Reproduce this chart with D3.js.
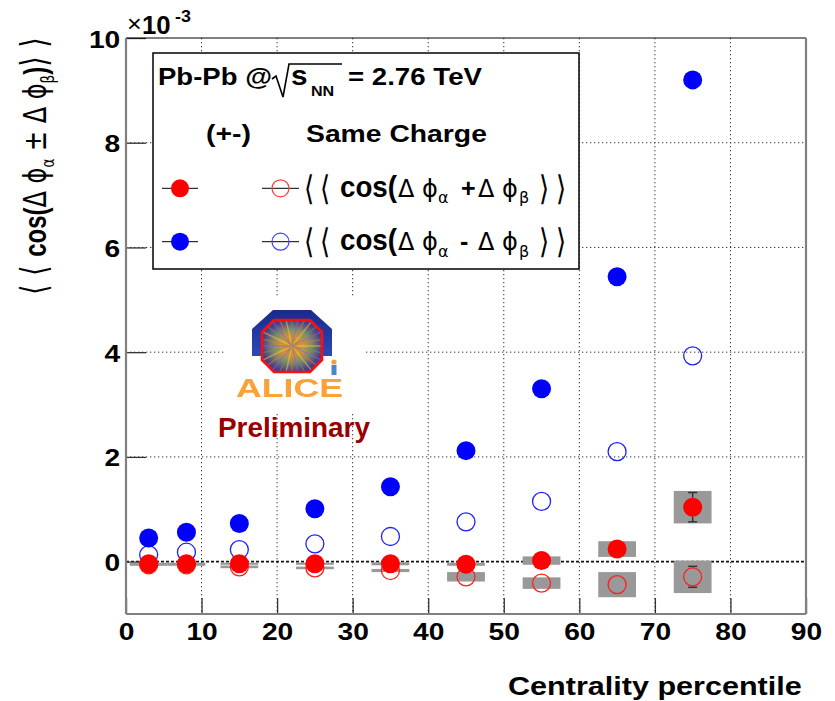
<!DOCTYPE html>
<html>
<head>
<meta charset="utf-8">
<script src="https://cdn.jsdelivr.net/npm/d3@7"></script>
<style>
  body { margin: 0; background: #fff; }
  svg { display: block; }
</style>
</head>
<body>
<svg id="chart" width="835" height="701"></svg>
<script>
// ---- data: two-particle correlators vs centrality (values x 1e-3) ----
const centrality   = [3, 8, 15, 25, 35, 45, 55, 65, 75];
// opposite charge (+-), <<cos(dphi_a - dphi_b)>>
const oppMinus     = [0.45, 0.56, 0.73, 1.01, 1.43, 2.12, 3.30, 5.44, 9.20];
// same charge, <<cos(dphi_a - dphi_b)>>
const sameMinus    = [0.13, 0.18, 0.23, 0.34, 0.48, 0.76, 1.15, 2.10, 3.93];
// opposite charge (+-), <<cos(dphi_a + dphi_b)>>
const oppPlus      = [-0.04, -0.04, -0.04, -0.04, -0.04, -0.05, 0.02, 0.24, 1.04];
// same charge, <<cos(dphi_a + dphi_b)>>
const samePlus     = [-0.06, -0.06, -0.10, -0.12, -0.17, -0.29, -0.41, -0.44, -0.29];
// systematic uncertainties (half height of the grey boxes)
const oppPlusSys   = [0.02, 0.02, 0.02, 0.02, 0.03, 0.03, 0.08, 0.15, 0.31];
const samePlusSys  = [0.02, 0.02, 0.025, 0.025, 0.03, 0.09, 0.11, 0.24, 0.31];
// statistical uncertainties
const oppPlusStat  = [0.01, 0.01, 0.01, 0.02, 0.03, 0.04, 0.06, 0.10, 0.28];
const samePlusStat = [0.01, 0.01, 0.01, 0.02, 0.03, 0.04, 0.06, 0.10, 0.20];
const binHalfWidth = 2.5;
const xTicks = [0, 10, 20, 30, 40, 50, 60, 70, 80, 90];
const yTicks = [0, 2, 4, 6, 8, 10];

// ---- layout ----
const W = 835, H = 701;
const M = { left: 126, right: 806, top: 38, bottom: 614 };
const x = d3.scaleLinear().domain([0, 90]).range([M.left, M.right]);
const y = d3.scaleLinear().domain([-1, 10]).range([M.bottom, M.top]);
const FONT = "'Liberation Sans', Arial, Helvetica, sans-serif";
const SYM = "'DejaVu Sans', 'Liberation Sans', sans-serif";
const SX = 1.15;
const RED = "#ff0000", BLUE = "#0000ff";
const R = 9.5;
const PHI = "\u03d5";

const svg = d3.select("#chart");
svg.append("rect").attr("width", W).attr("height", H).attr("fill", "#fff");

// text helper: optional stretch to a given width
function label(g, str, x0, y0, opt) {
  const t = g.append("text").attr("x", 0).attr("y", 0)
    .attr("font-family", opt.family || FONT)
    .attr("font-weight", opt.weight || "bold")
    .attr("font-size", opt.size)
    .attr("fill", opt.fill || "#000")
    .attr("text-anchor", opt.anchor || "start")
    .text(str);
  let sx = opt.sx || 1;
  if (opt.width) sx = opt.width / t.node().getComputedTextLength();
  t.attr("transform", `translate(${x0},${y0}) scale(${sx},${opt.sy || 1})`);
  return t;
}

// ---- grid ----
const grid = svg.append("g");
grid.selectAll("line.gx").data(xTicks.filter(d => d > 0 && d < 90)).join("line")
  .attr("x1", d => x(d)).attr("x2", d => x(d))
  .attr("y1", M.top).attr("y2", M.bottom)
  .attr("stroke", "#333").attr("stroke-width", 1).attr("stroke-dasharray", "1.3,2.7");
grid.selectAll("line.gy").data(yTicks.filter(d => d > 0 && d < 10)).join("line")
  .attr("x1", M.left).attr("x2", M.right)
  .attr("y1", d => y(d)).attr("y2", d => y(d))
  .attr("stroke", "#333").attr("stroke-width", 1).attr("stroke-dasharray", "1.3,2.7");
grid.append("line")
  .attr("x1", M.left).attr("x2", M.right).attr("y1", y(0)).attr("y2", y(0))
  .attr("stroke", "#111").attr("stroke-width", 1.6).attr("stroke-dasharray", "3,2");

// ---- axes ----
const gx = svg.append("g").attr("transform", `translate(0,${M.bottom})`)
  .call(d3.axisBottom(x).tickValues(xTicks).tickSizeInner(-16).tickSizeOuter(0).tickFormat(d3.format("d")));
gx.select(".domain").remove();
gx.selectAll(".tick line").attr("stroke", "#333").attr("stroke-width", 1.3);
gx.selectAll(".tick text")
  .attr("font-family", FONT).attr("font-weight", "bold").attr("font-size", 24.5)
  .attr("fill", "#000").attr("y", 26).attr("dy", 0)
  .attr("transform", `scale(${SX},1)`);

const gy = svg.append("g").attr("transform", `translate(${M.left},0)`)
  .call(d3.axisLeft(y).tickValues(yTicks).tickSizeInner(-20).tickSizeOuter(0).tickFormat(d3.format("d")));
gy.select(".domain").remove();
gy.selectAll(".tick line").attr("stroke", "#333").attr("stroke-width", 1.3);
gy.selectAll(".tick text")
  .attr("font-family", FONT).attr("font-weight", "bold").attr("font-size", 24.5)
  .attr("fill", "#000").attr("x", -5).attr("dy", 9)
  .attr("transform", `scale(${SX},1)`);

// exponent
label(svg, "\u00d7", 127, 32, { size: 24, weight: "normal", sx: 1.05 });
label(svg, "10", 142, 34, { size: 25, sx: 1.03 });
label(svg, "-3", 175, 22, { size: 17, sx: 1.05 });

// axis titles
label(svg, "Centrality percentile", 508, 695, { size: 25, width: 294 });

const yt = svg.append("g").attr("transform", "translate(46,295) rotate(-90)");
const ytText = yt.append("text").attr("x", 0).attr("y", 0).attr("font-size", 32).attr("fill", "#000");
ytText.append("tspan").attr("font-family", SYM).attr("font-size", 36).text("\u27e8 \u27e8 ");
ytText.append("tspan").attr("font-family", FONT).attr("font-weight", "bold").text("cos(");
ytText.append("tspan").attr("font-family", SYM).text("\u0394 " + PHI);
ytText.append("tspan").attr("font-family", SYM).attr("font-size", 18).attr("dy", 8).text("\u03b1");
ytText.append("tspan").attr("font-family", SYM).attr("dy", -8).text(" \u00b1 \u0394 " + PHI);
ytText.append("tspan").attr("font-family", SYM).attr("font-size", 18).attr("dy", 8).text("\u03b2");
ytText.append("tspan").attr("font-family", FONT).attr("font-weight", "bold").attr("dy", -8).text(")");
ytText.append("tspan").attr("font-family", SYM).attr("font-size", 36).text("\u27e9 \u27e9");
{
  const len = ytText.node().getComputedTextLength();
  ytText.attr("transform", `scale(${258 / len},1)`);
}

// ---- frame ----
const frame = svg.append("g");
frame.append("line").attr("x1", M.left).attr("x2", M.right).attr("y1", M.top).attr("y2", M.top)
  .attr("stroke", "#000").attr("stroke-width", 1);
frame.append("line").attr("x1", M.left).attr("x2", M.left).attr("y1", M.top).attr("y2", M.bottom)
  .attr("stroke", "#808080").attr("stroke-width", 2.2);
frame.append("line").attr("x1", M.left).attr("x2", M.right).attr("y1", M.bottom).attr("y2", M.bottom)
  .attr("stroke", "#808080").attr("stroke-width", 2.2);
frame.append("line").attr("x1", M.right).attr("x2", M.right).attr("y1", M.top).attr("y2", M.bottom)
  .attr("stroke", "#808080").attr("stroke-width", 2.2);

// ---- ALICE logo ----
const defs = svg.append("defs");
const blueGrad = defs.append("linearGradient").attr("id", "ringBlue").attr("x1", 0).attr("y1", 0).attr("x2", 0).attr("y2", 1);
blueGrad.append("stop").attr("offset", "0%").attr("stop-color", "#1a2a8a");
blueGrad.append("stop").attr("offset", "100%").attr("stop-color", "#2c49b8");
const coreGrad = defs.append("radialGradient").attr("id", "core");
coreGrad.append("stop").attr("offset", "0%").attr("stop-color", "#ff9a10");
coreGrad.append("stop").attr("offset", "35%").attr("stop-color", "#d89a40");
coreGrad.append("stop").attr("offset", "65%").attr("stop-color", "#7f8a6a");
coreGrad.append("stop").attr("offset", "100%").attr("stop-color", "#4a3c8c");
defs.append("filter").attr("id", "soft").append("feGaussianBlur").attr("stdDeviation", 0.6);

const logo = svg.append("g");
logo.append("rect").attr("x", 225).attr("y", 298).attr("width", 139).attr("height", 116).attr("fill", "#fff");
const lg = logo.append("g").attr("filter", "url(#soft)");
lg.append("polygon")
  .attr("points", [[273, 310], [311, 310], [332, 329], [332, 356], [252, 356], [252, 329]].map(p => p.join(",")).join(" "))
  .attr("fill", "url(#ringBlue)");
const oct = (cx, cy, a, b, c) => [
  [cx - a + c, cy - b], [cx + a - c, cy - b], [cx + a, cy - b + c], [cx + a, cy + b - c],
  [cx + a - c, cy + b], [cx - a + c, cy + b], [cx - a, cy + b - c], [cx - a, cy - b + c]
].map(p => p.join(",")).join(" ");
defs.append("clipPath").attr("id", "octClip").append("polygon").attr("points", oct(292, 346, 30, 26, 12));
lg.append("polygon").attr("points", oct(292, 346, 30, 26, 12)).attr("fill", "url(#core)");
const rays = lg.append("g").attr("clip-path", "url(#octClip)");
const rayColors = ["#f0c040", "#5aa05a", "#8a60c8", "#e07a20"];
rays.selectAll("line").data(d3.range(28)).join("line")
  .attr("x1", 292).attr("y1", 346)
  .attr("x2", i => 292 + 40 * Math.cos(i * 2 * Math.PI / 28))
  .attr("y2", i => 346 + 40 * Math.sin(i * 2 * Math.PI / 28))
  .attr("stroke", i => rayColors[i % 4]).attr("stroke-width", 1.4).attr("opacity", 0.55);
lg.append("polygon").attr("points", oct(292, 346, 30, 26, 12))
  .attr("fill", "none").attr("stroke", "#ff1010").attr("stroke-width", 2.6);
lg.append("circle").attr("cx", 334).attr("cy", 362).attr("r", 2.6).attr("fill", "#f0a040");
lg.append("rect").attr("x", 331.5).attr("y", 365).attr("width", 5).attr("height", 10).attr("fill", "#4a86d0");
label(lg, "ALICE", 236, 397, { size: 26, width: 107, fill: "#f8a238" });
label(logo, "Preliminary", 218, 437, { size: 27, width: 152, fill: "#990000" });

// ---- systematic boxes ----
const marks = svg.append("g");
function sysBoxes(vals, sys) {
  marks.append("g").selectAll("rect").data(centrality).join("rect")
    .attr("x", d => x(d - binHalfWidth))
    .attr("width", d => x(d + binHalfWidth) - x(d - binHalfWidth))
    .attr("y", (d, i) => y(vals[i] + sys[i]))
    .attr("height", (d, i) => y(vals[i] - sys[i]) - y(vals[i] + sys[i]))
    .attr("fill", "#999");
}
sysBoxes(oppPlus, oppPlusSys);
sysBoxes(samePlus, samePlusSys);

// ---- statistical error bars (visible outside the marker only) ----
function statBars(vals, stat) {
  const g = marks.append("g").attr("stroke", "#333").attr("stroke-width", 1.5);
  centrality.forEach((c, i) => {
    const cx = x(c), cy = y(vals[i]);
    const top = y(vals[i] + stat[i]), bot = y(vals[i] - stat[i]);
    if (cy - top <= R) return;
    g.append("line").attr("x1", cx).attr("x2", cx).attr("y1", top).attr("y2", cy - R);
    g.append("line").attr("x1", cx).attr("x2", cx).attr("y1", cy + R).attr("y2", bot);
    g.append("line").attr("x1", cx - 4.5).attr("x2", cx + 4.5).attr("y1", top).attr("y2", top);
    g.append("line").attr("x1", cx - 4.5).attr("x2", cx + 4.5).attr("y1", bot).attr("y2", bot);
  });
}
statBars(oppPlus, oppPlusStat);
statBars(samePlus, samePlusStat);

// ---- markers ----
function openMarkers(vals, color) {
  marks.append("g").selectAll("circle").data(centrality).join("circle")
    .attr("cx", d => x(d)).attr("cy", (d, i) => y(vals[i])).attr("r", R - 0.5)
    .attr("fill", "none").attr("stroke", color).attr("stroke-width", 1.3);
}
function filledMarkers(vals, color) {
  marks.append("g").selectAll("circle").data(centrality).join("circle")
    .attr("cx", d => x(d)).attr("cy", (d, i) => y(vals[i])).attr("r", R)
    .attr("fill", color);
}
openMarkers(sameMinus, "#2020ff");
openMarkers(samePlus, "#ff2020");
filledMarkers(oppMinus, BLUE);
filledMarkers(oppPlus, RED);

// ---- legend ----
const leg = svg.append("g");
leg.append("rect").attr("x", 153).attr("y", 53).attr("width", 426).attr("height", 216)
  .attr("fill", "#fff").attr("stroke", "#000").attr("stroke-width", 1.5);
label(leg, "Pb-Pb @", 158, 85, { size: 23, width: 114 });
leg.append("path").attr("d", "M272,79 L276,76 L283,97 L289,64 L342,64")
  .attr("fill", "none").attr("stroke", "#000").attr("stroke-width", 1.6);
label(leg, "s", 291, 85, { size: 27, sx: 1.1 });
label(leg, "NN", 311, 96, { size: 14, sx: 1.15 });
label(leg, "= 2.76 TeV", 348, 85, { size: 23, width: 134 });
label(leg, "(+-)", 206, 142, { size: 23, width: 45 });
label(leg, "Same Charge", 306, 142, { size: 23, width: 181 });

const rows = [
  { cy: 188.3, fill: RED, open: "#ff4040", sign: "+" },
  { cy: 241.7, fill: BLUE, open: "#4040ff", sign: "-" }
];
rows.forEach(r => {
  leg.append("line").attr("x1", 162).attr("x2", 198).attr("y1", r.cy).attr("y2", r.cy).attr("stroke", "#000");
  leg.append("circle").attr("cx", 180).attr("cy", r.cy).attr("r", 9).attr("fill", r.fill);
  leg.append("line").attr("x1", 262).attr("x2", 299).attr("y1", r.cy).attr("y2", r.cy).attr("stroke", "#000");
  leg.append("circle").attr("cx", 280.5).attr("cy", r.cy).attr("r", 8.5)
    .attr("fill", "#fff").attr("fill-opacity", 0).attr("stroke", r.open).attr("stroke-width", 1.2);
  const b = r.cy + 8.4, s = r.cy + 15;
  const sym = { family: SYM, weight: "normal", size: 26, sy: 1.3 };
  label(leg, "\u27e8", 304, b + 3, sym);
  label(leg, "\u27e8", 320, b + 3, sym);
  label(leg, "cos(", 340, b, { size: 29, width: 57 });
  label(leg, "\u0394", 398, b, { family: SYM, weight: "normal", size: 24 });
  label(leg, PHI, 422, b, { family: SYM, weight: "normal", size: 24 });
  label(leg, "\u03b1", 438, s, { family: SYM, weight: "normal", size: 16 });
  label(leg, r.sign, r.sign === "+" ? 461 : 460, b, { size: 25 });
  label(leg, "\u0394", 478, b, { family: SYM, weight: "normal", size: 24 });
  label(leg, PHI, 502, b, { family: SYM, weight: "normal", size: 24 });
  label(leg, "\u03b2", 519, s, { family: SYM, weight: "normal", size: 16 });
  label(leg, "\u27e9", 539, b + 3, sym);
  label(leg, "\u27e9", 556, b + 3, sym);
});
</script>
</body>
</html>
